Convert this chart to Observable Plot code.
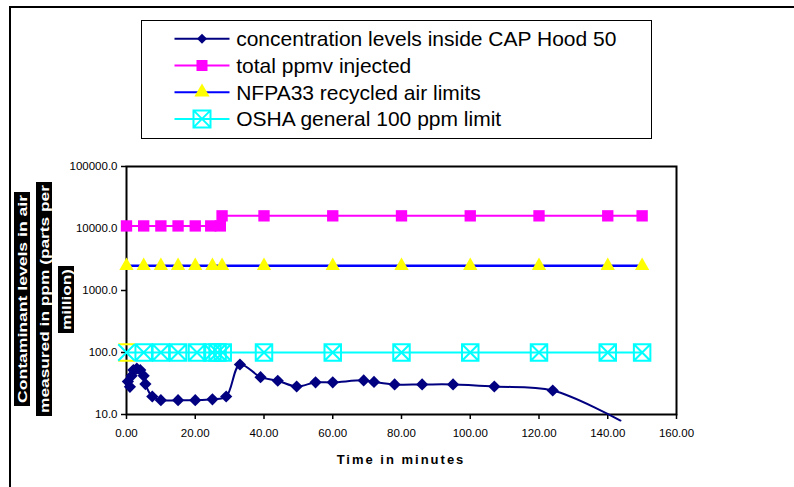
<!DOCTYPE html>
<html><head><meta charset="utf-8">
<script src="https://cdn.jsdelivr.net/npm/d3@7"></script>
<script src="https://cdn.jsdelivr.net/npm/@observablehq/plot@0.6"></script>
<style>
body{margin:0;background:#fff;font-family:"Liberation Sans",Arial,sans-serif;}
#wrap{position:relative;width:794px;height:487px;overflow:hidden;background:#fff;}
#outer{position:absolute;left:9px;top:6px;width:820px;height:520px;border-top:2px solid #000;border-left:2px solid #000;}
#legend{position:absolute;left:141px;top:20px;width:509px;height:117px;border:1.5px solid #000;background:#fff;}
#chart{position:absolute;left:0;top:150px;}
#xtitle{position:absolute;left:126px;width:550px;top:452px;line-height:16px;text-align:center;font-weight:bold;font-size:13px;letter-spacing:2px;color:#000;}
#ylab{position:absolute;left:0;top:0;}
#chart g[aria-label*="axis"] path, #chart g[aria-label*="axis"] line{stroke-width:1.5px;}
</style></head><body>
<div id="wrap">
 <div id="outer"></div>
 <div id="legend"></div>
 <div id="chart"></div>
 <div id="xtitle">Time in minutes</div>
 <svg id="ylab" width="100" height="487"></svg>
</div>
<script>
// ---- data ----
const seriesNames = ["concentration levels inside CAP Hood 50", "total ppmv injected", "NFPA33 recycled air limits", "OSHA general 100 ppm limit"];
const xTicks = [0, 20, 40, 60, 80, 100, 120, 140, 160];
const yTicks = [10, 100, 1000, 10000, 100000];

const concTime = [0.4, 1, 1.5, 2, 3, 4, 5, 5.5, 7.5, 10, 15, 20, 25, 29, 33, 39, 44, 49.5, 55, 60, 69, 72, 78, 86, 95, 107, 124, 143.7];
const concPpm  = [34, 28, 42, 52, 55, 52, 42, 31, 19.5, 17, 17, 17, 17.6, 19.5, 64, 40, 35, 28.3, 33, 33, 35.5, 33.5, 30.5, 30.5, 30.5, 28.3, 24.4, 8];

const injTime = [0, 5, 10, 15, 20, 24.5, 27.3, 27.8, 40, 60, 80, 100, 120, 140, 150];
const injPpm  = [11000, 11000, 11000, 11000, 11000, 11000, 11000, 16000, 16000, 16000, 16000, 16000, 16000, 16000, 16000];

const nfpaTime = [0, 5, 10, 15, 20, 25, 27.8, 40, 60, 80, 100, 120, 140, 150];
const nfpaPpm  = [2500, 2500, 2500, 2500, 2500, 2500, 2500, 2500, 2500, 2500, 2500, 2500, 2500, 2500];

const oshaTime = [0, 5, 10, 15, 20.5, 25, 26.5, 28, 40, 60, 80, 100, 120, 140, 150];
const oshaPpm  = [100, 100, 100, 100, 100, 100, 100, 100, 100, 100, 100, 100, 100, 100, 100];

const colors = {conc: "#000080", inj: "#FF00FF", nfpaLine: "#0000FF", nfpaMark: "#FFFF00", osha: "#00FFFF"};

// ---- build tables ----
const zip = (ts, vs) => ts.map((t, i) => ({t, v: vs[i]}));
const conc = zip(concTime, concPpm);
const inj = zip(injTime, injPpm);
const nfpa = zip(nfpaTime, nfpaPpm);
const osha = zip(oshaTime, oshaPpm);

const boxX = {
  draw(ctx, size) {
    const s = Math.sqrt(size) / 2;
    ctx.moveTo(-s, -s); ctx.lineTo(s, -s); ctx.lineTo(s, s); ctx.lineTo(-s, s); ctx.closePath();
    ctx.moveTo(-s, -s); ctx.lineTo(s, s);
    ctx.moveTo(s, -s); ctx.lineTo(-s, s);
  }
};
const xOnly = {
  draw(ctx, size) {
    const s = Math.sqrt(size) / 2;
    ctx.moveTo(-s, -s); ctx.lineTo(s, s);
    ctx.moveTo(s, -s); ctx.lineTo(-s, s);
  }
};
const barsOnly = {
  draw(ctx, size) {
    const s = Math.sqrt(size) / 2;
    ctx.moveTo(-s, -s); ctx.lineTo(s, -s);
    ctx.moveTo(-s, s); ctx.lineTo(s, s);
  }
};

const chart = Plot.plot({
  width: 794, height: 337,
  marginLeft: 126, marginRight: 118, marginTop: 16, marginBottom: 73,
  style: {background: "none", fontFamily: "'Liberation Sans', Arial, sans-serif", fontSize: "11.5px", color: "#000"},
  x: {domain: [0, 160], ticks: xTicks, tickFormat: d => d.toFixed(2), tickSize: 5, tickPadding: 9, label: null},
  y: {type: "log", domain: [10, 100000], ticks: yTicks, tickFormat: d => d.toFixed(1), tickSize: 5, tickPadding: 4, label: null},
  marks: [
    Plot.frame({stroke: "#000", strokeWidth: 2}),
    Plot.line(conc, {x: "t", y: "v", stroke: colors.conc, strokeWidth: 2, curve: "catmull-rom"}),
    Plot.dot(conc.filter(d => d.v >= 10), {x: "t", y: "v", symbol: "diamond2", r: 5.5, fill: colors.conc, stroke: "none"}),
    Plot.line(inj, {x: "t", y: "v", stroke: colors.inj, strokeWidth: 2}),
    Plot.dot(inj, {x: "t", y: "v", symbol: "square", r: 6.4, fill: colors.inj, stroke: "none"}),
    Plot.line(nfpa, {x: "t", y: "v", stroke: colors.nfpaLine, strokeWidth: 2.5}),
    Plot.dot(nfpa, {x: "t", y: "v", symbol: "triangle", r: 5.3, fill: colors.nfpaMark, stroke: "none"}),
    Plot.line(osha, {x: "t", y: "v", stroke: colors.osha, strokeWidth: 2}),
    Plot.dot(osha.slice(1), {x: "t", y: "v", symbol: boxX, r: 9.3, fill: "none", stroke: colors.osha, strokeWidth: 2}),
    Plot.dot(osha.slice(0, 1), {x: "t", y: "v", symbol: barsOnly, r: 9.3, fill: "none", stroke: colors.nfpaMark, strokeWidth: 2}),
    Plot.dot(osha.slice(0, 1), {x: "t", y: "v", symbol: xOnly, r: 9.3, fill: "none", stroke: colors.osha, strokeWidth: 2})
  ]
});
document.getElementById("chart").appendChild(chart);

// ---- legend ----
const legendRows = [
  {label: seriesNames[0], line: colors.conc, fill: colors.conc, stroke: "none", sym: d3.symbolDiamond2, size: 64},
  {label: seriesNames[1], line: colors.inj, fill: colors.inj, stroke: "none", sym: d3.symbolSquare, size: 121},
  {label: seriesNames[2], line: colors.nfpaLine, fill: colors.nfpaMark, stroke: "none", sym: d3.symbolTriangle, size: 100},
  {label: seriesNames[3], line: colors.osha, fill: "none", stroke: colors.osha, sym: boxX, size: 289}
];
const lg = d3.select("#legend").append("svg").attr("width", 509).attr("height", 117).style("display", "block");
legendRows.forEach((r, i) => {
  const cy = 17.8 + i * 26.7;
  const g = lg.append("g").attr("transform", `translate(0,${cy})`);
  g.append("line").attr("x1", 32.5).attr("x2", 87.5).attr("y1", 0).attr("y2", 0)
    .attr("stroke", r.line).attr("stroke-width", 2);
  g.append("path").attr("transform", "translate(60,0)").attr("d", d3.symbol(r.sym, r.size)())
    .attr("fill", r.fill).attr("stroke", r.stroke).attr("stroke-width", 2);
  g.append("text").attr("x", 94.2).attr("dy", "0.35em").text(r.label)
    .attr("font-family", "'Liberation Sans', Arial, sans-serif").attr("font-size", 21).attr("fill", "#000");
});

// ---- rotated y label (white on black) ----
const yLabelLines = ["Contaminant levels in air", "measured in ppm (parts per", "million)"];
const yBoxes = [{x: 14, y: 192, w: 16, h: 214}, {x: 36, y: 182, w: 16, h: 234}, {x: 58, y: 266, w: 16, h: 67}];
const yl = d3.select("#ylab");
yLabelLines.forEach((txt, i) => {
  const b = yBoxes[i];
  yl.append("rect").attr("x", b.x).attr("y", b.y).attr("width", b.w).attr("height", b.h).attr("fill", "#000");
  yl.append("text")
    .attr("transform", `translate(${b.x + b.w / 2},${b.y + b.h / 2}) rotate(-90)`)
    .attr("text-anchor", "middle").attr("dy", "0.36em")
    .attr("textLength", b.h - 6).attr("lengthAdjust", "spacingAndGlyphs")
    .attr("font-family", "'Liberation Sans', Arial, sans-serif").attr("font-weight", "bold").attr("font-size", 13)
    .attr("fill", "#fff").text(txt);
});
</script>
</body></html>
